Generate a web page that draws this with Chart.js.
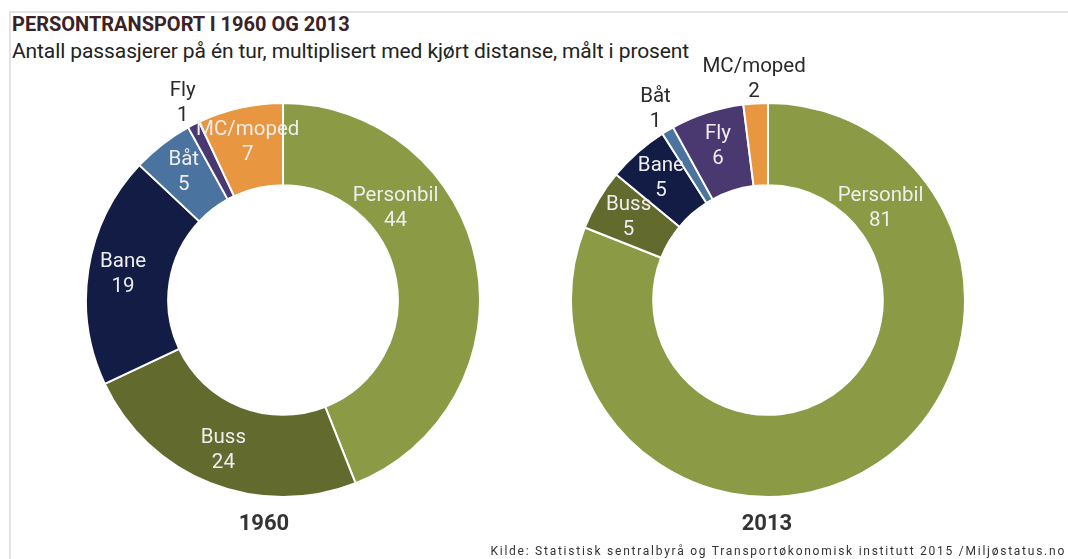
<!DOCTYPE html>
<html>
<head>
<meta charset="utf-8">
<script src="https://cdn.jsdelivr.net/npm/chart.js@4.4.1/dist/chart.umd.min.js"></script>
<style>
  html, body { margin: 0; padding: 0; background: #fff; }
  body { width: 1068px; height: 559px; overflow: hidden; position: relative; font-family: Roboto, sans-serif; }
  .rule-top { position: absolute; left: 9px; top: 11px; right: 0; height: 2px; background: #e4e4e4; }
  .rule-left { position: absolute; left: 9px; top: 11px; width: 2px; height: 548px; background: #e4e4e4; }
  #title { position: absolute; left: 12px; top: 12px; font: bold 20px Roboto, sans-serif; color: #3a2227; white-space: nowrap; }
  #subtitle { position: absolute; left: 12px; top: 39px; font: 21px Roboto, sans-serif; color: #222; white-space: nowrap; letter-spacing: -0.1px; }
  canvas { position: absolute; }
  .year { position: absolute; top: 510px; font: bold 22px Roboto, sans-serif; color: #333; transform: translateX(-50%); white-space: nowrap; }
  #source { position: absolute; right: 2px; top: 544px; font: 12px Roboto, sans-serif; letter-spacing: 1.75px; color: #333; white-space: nowrap; }
</style>
</head>
<body>
<div class="rule-top"></div>
<div class="rule-left"></div>
<div id="title">PERSONTRANSPORT I 1960 OG 2013</div>
<div id="subtitle">Antall passasjerer på én tur, multiplisert med kjørt distanse, målt i prosent</div>
<canvas id="c1960" width="400" height="520" style="left:83px;top:40px"></canvas>
<canvas id="c2013" width="400" height="520" style="left:568px;top:40px"></canvas>
<div class="year" id="y1960" style="left:264px"></div>
<div class="year" id="y2013" style="left:767px"></div>
<div id="source">Kilde: Statistisk sentralbyrå og Transportøkonomisk institutt 2015 /Miljøstatus.no</div>

<script>
// Transport modes, clockwise from 12 o'clock
const categories = ['Personbil', 'Buss', 'Bane', 'Båt', 'Fly', 'MC/moped'];
// Share of passenger-kilometres, percent
const values1960 = [44, 24, 19, 5, 1, 7];
const values2013 = [81, 5, 5, 1, 6, 2];
const years = ['1960', '2013'];
const colors = ['#8a9a45', '#626a2e', '#121c44', '#4b73a0', '#4a3870', '#e8963f'];

// Slices this small get their label outside the ring
const OUTSIDE_MAX = 2;

const deg = Math.PI / 180;

// Two-line "name / value" labels on each slice
const sliceLabels = {
  id: 'sliceLabels',
  afterDatasetsDraw(chart) {
    const ctx = chart.ctx;
    const meta = chart.getDatasetMeta(0);
    const data = chart.data.datasets[0].data;
    ctx.save();
    ctx.font = '20.5px Roboto, sans-serif';
    ctx.textAlign = 'center';
    ctx.textBaseline = 'middle';
    meta.data.forEach((arc, i) => {
      const p = arc.getProps(['x', 'y', 'startAngle', 'endAngle', 'innerRadius', 'outerRadius'], true);
      const value = data[i];
      const outside = value <= OUTSIDE_MAX;
      let angle = (p.startAngle + p.endAngle) / 2;
      let r = outside ? p.outerRadius + 24 : (p.innerRadius + p.outerRadius) / 2 + 6;
      if (i === 0) { // the big first slice keeps its label in the upper right
        angle = -90 * deg + 51 * deg;
        r = (p.innerRadius + p.outerRadius) / 2 - 11;
      }
      const cx = p.x + Math.cos(angle) * r;
      const cy = p.y + Math.sin(angle) * r;
      ctx.fillStyle = outside ? '#2a2a2a' : '#eeeeee';
      ctx.fillText(chart.data.labels[i], cx, cy - 12.5);
      ctx.fillText(String(value), cx, cy + 12.5);
    });
    ctx.restore();
  }
};

function donut(id, values) {
  return new Chart(document.getElementById(id), {
    type: 'doughnut',
    data: {
      labels: categories,
      datasets: [{
        data: values,
        backgroundColor: colors,
        borderColor: '#ffffff',
        borderWidth: 2
      }]
    },
    options: {
      responsive: false,
      animation: false,
      events: [],
      radius: 197,
      cutout: 116,
      layout: { padding: 0 },
      plugins: { legend: { display: false }, tooltip: { enabled: false } }
    },
    plugins: [sliceLabels]
  });
}

donut('c1960', values1960);
donut('c2013', values2013);
document.getElementById('y1960').textContent = years[0];
document.getElementById('y2013').textContent = years[1];
</script>
</body>
</html>
